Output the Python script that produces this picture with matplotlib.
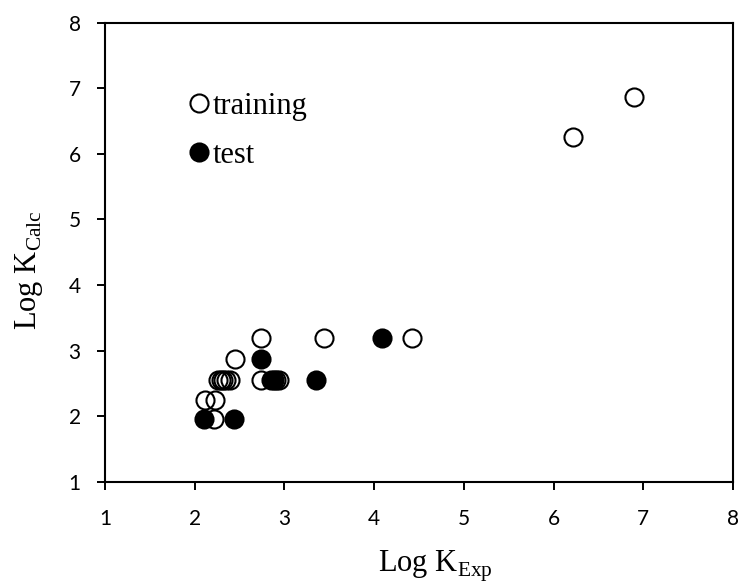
import matplotlib
matplotlib.use("Agg")
import matplotlib.pyplot as plt

# Data
train_x = [2.74, 3.44, 4.42, 2.45, 2.26, 2.29, 2.32, 2.35, 2.39, 2.74, 2.91, 2.94, 2.11, 2.23, 2.21, 6.22, 6.90]
train_y = [3.19, 3.19, 3.19, 2.87, 2.55, 2.55, 2.55, 2.55, 2.55, 2.55, 2.55, 2.55, 2.25, 2.25, 1.95, 6.26, 6.86]
test_x = [4.09, 2.74, 2.85, 2.88, 3.35, 2.10, 2.44]
test_y = [3.19, 2.87, 2.55, 2.55, 2.55, 1.95, 1.95]
ticks = [1, 2, 3, 4, 5, 6, 7, 8]

plt.rcParams['mathtext.fontset'] = 'custom'
plt.rcParams['mathtext.rm'] = 'Liberation Serif'

fig = plt.figure(figsize=(7.38, 5.87), dpi=100)
ax = fig.add_axes([105/738, 1-481.7/587, 628/738, 459/587])

ax.plot(train_x, train_y, 'o', ms=13, mfc='none', mec='black', mew=1.5, label='training', zorder=3)
ax.plot(test_x, test_y, 'o', ms=13, mfc='black', mec='black', mew=1.5, label='test', zorder=4)

ax.set_xlim(1, 8)
ax.set_ylim(1, 8)
ax.set_xticks(ticks)
ax.set_yticks(ticks)
ax.set_xticklabels([str(t) for t in ticks], fontfamily='Lato', fontsize=15)
ax.set_yticklabels([str(t) for t in ticks], fontfamily='Lato', fontsize=15)
ax.tick_params(axis='x', direction='out', length=5.5, width=1.4, pad=14)
ax.tick_params(axis='y', direction='out', length=5.5, width=1.4, pad=12)
for s in ax.spines.values():
    s.set_linewidth(1.5)

ax.set_xlabel(r'Log K$_{\mathrm{Exp}}$', fontfamily='Liberation Serif', fontsize=22)
ax.set_ylabel(r'Log K$_{\mathrm{Calc}}$', fontfamily='Liberation Serif', fontsize=22)
ax.xaxis.set_label_coords(0.526, -0.147)
ax.yaxis.set_label_coords(-0.0955, 0.461)

leg = ax.legend(loc='upper left', bbox_to_anchor=(0.128, 0.849), frameon=False,
                numpoints=1, handlelength=0.9, handletextpad=0.0, borderpad=0,
                labelspacing=0.65, borderaxespad=0,
                prop={'family': 'Liberation Serif', 'size': 22})

fig.savefig('out.png', dpi=100)
